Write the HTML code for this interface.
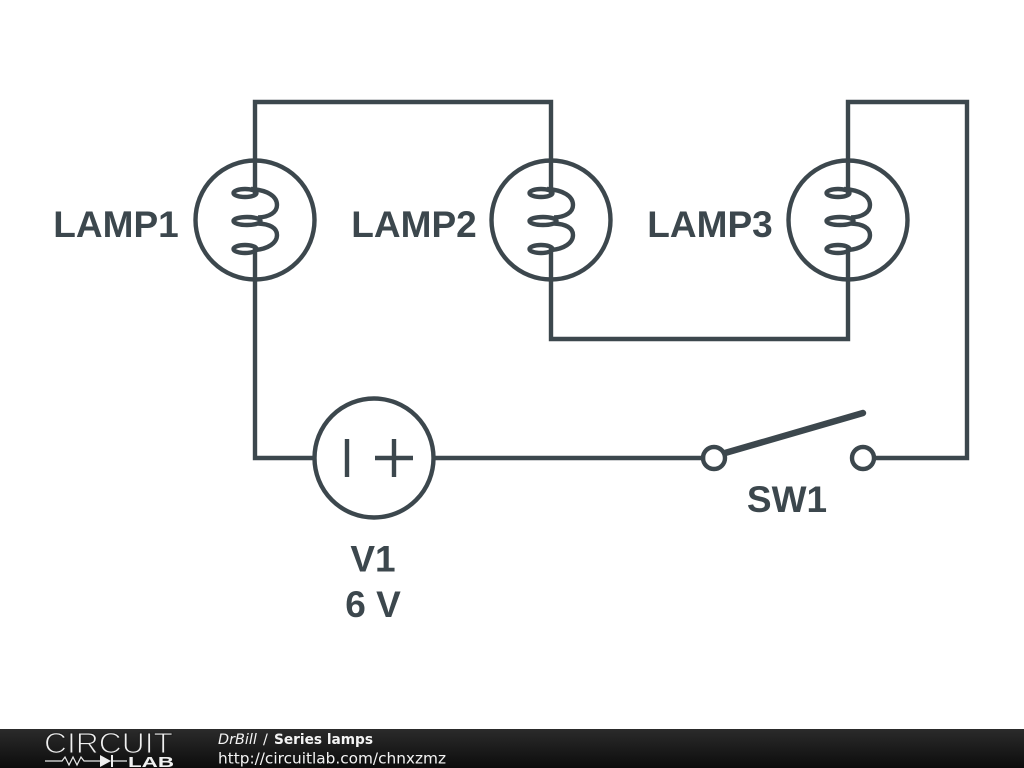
<!DOCTYPE html>
<html><head><meta charset="utf-8"><style>
html,body{margin:0;padding:0;background:#fff;width:1024px;height:768px;overflow:hidden}
svg{display:block}
</style></head><body>
<svg width="1024" height="768" viewBox="0 0 1024 768" xmlns="http://www.w3.org/2000/svg">
<defs>
<linearGradient id="bar" x1="0" y1="0" x2="0" y2="1"><stop offset="0" stop-color="#2b2b2b"/><stop offset="1" stop-color="#0c0c0c"/></linearGradient>
<g id="lamp" fill="none" stroke="#3c474d" stroke-width="4.4">
<circle cx="0" cy="0" r="59.5"/>
<path d="M0 -60V-25M0 26V60"/>
<ellipse cx="-10" cy="-27" rx="11.5" ry="4"/>
<ellipse cx="-8" cy="1" rx="13.5" ry="4"/>
<ellipse cx="-10" cy="29" rx="11.5" ry="4"/>
<path d="M-4 -31C12 -30 22 -24 22 -15C22 -8 15 -3 3 -2.5"/>
<path d="M3 3.5C15 4 22 8 22 15C22 23 13 29 0 30"/>
</g>
</defs>
<g fill="none" stroke="#3c474d" stroke-width="4.4" stroke-linecap="square">
<path d="M255 160V102H551V160"/>
<path d="M551 280V339H848V280"/>
<path d="M848 160V102H967V458H875"/>
<path d="M255 280V458H314"/>
<path d="M434 458H703"/>
</g>
<use href="#lamp" x="255" y="220"/>
<use href="#lamp" x="551" y="220"/>
<use href="#lamp" x="848" y="220"/>
<g fill="none" stroke="#3c474d" stroke-width="4.4">
<circle cx="374" cy="458" r="59.5"/>
<path d="M347 439V477M375 458H413M394 439V477"/>
<circle cx="714" cy="458" r="11"/>
<circle cx="863" cy="458" r="11"/>
<path d="M725 453L863 413" stroke-width="6.4" stroke-linecap="round"/>
</g>
<g font-family="'Liberation Sans',sans-serif" font-weight="700" font-size="37" fill="#3c474d" text-anchor="middle">
<text x="116" y="237">LAMP1</text>
<text x="414" y="237">LAMP2</text>
<text x="710" y="237">LAMP3</text>
<text x="787" y="512">SW1</text>
<text x="373" y="571.5">V1</text>
<text x="373" y="617">6 V</text>
</g>
<rect x="0" y="729" width="1024" height="39" fill="url(#bar)"/>
<text x="44" y="753" font-family="'Liberation Sans',sans-serif" font-size="29" fill="#f0f0f0" stroke="#1f1f1f" stroke-width="1.1" textLength="129" lengthAdjust="spacingAndGlyphs">CIRCUIT</text>
<path d="M45 761H62L65 757L69 765L73 757L77 765L81 757L84 761H100M113 761H127" fill="none" stroke="#e8e8e8" stroke-width="1.2"/>
<path d="M100 755V767L111 761Z" fill="#f0f0f0"/>
<path d="M112 755V767" stroke="#f0f0f0" stroke-width="2"/>
<text x="128" y="767" font-family="'Liberation Sans',sans-serif" font-weight="700" font-size="15" fill="#f0f0f0" textLength="46" lengthAdjust="spacingAndGlyphs">LAB</text>
<g font-family="'DejaVu Sans',sans-serif" font-size="14.4" fill="#f4f4f4">
<text x="218" y="744" font-style="italic">DrBill</text>
<text x="263" y="744">/</text>
<text x="274" y="744" font-weight="700" textLength="99" lengthAdjust="spacingAndGlyphs">Series lamps</text>
<text x="218" y="763.5" font-size="15.4" textLength="228" lengthAdjust="spacingAndGlyphs">http://circuitlab.com/chnxzmz</text>
</g>
</svg>
</body></html>
